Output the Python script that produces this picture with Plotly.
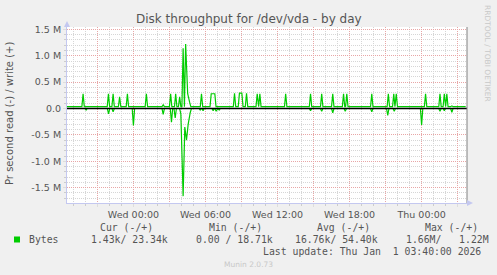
import plotly.graph_objects as go
from datetime import datetime, timedelta

# ---------------- data ----------------
T0 = datetime(2025, 12, 31, 0, 0)          # Wed 00:00
range_start_h = -5.53
range_end_h = 27.78
last_h = 27.67

write_base = 35000
write_spike_h = [-4.19, -2.08, -1.69, -1.15, -0.5, 1.08, 2.48, 3.10, 3.52, 3.85,
                 4.14, 4.35, 4.52, 4.68, 5.67, 6.48, 6.63, 6.78, 8.42, 8.83,
                 9.03, 9.42, 10.31, 10.53, 12.68, 14.75, 15.68, 16.60, 17.50, 17.77,
                 19.85, 21.23, 21.68, 21.89, 24.33, 25.53, 25.89, 26.10, 26.52]
write_spike_v = [280e3, 280e3, 280e3, 220e3, 280e3, 280e3, 70e3, 280e3, 280e3, 220e3,
                 1140e3, 1220e3, 280e3, 120e3, 280e3, 280e3, 280e3, 280e3, 290e3, 290e3,
                 290e3, 290e3, 280e3, 280e3, 280e3, 280e3, 280e3, 280e3, 280e3, 280e3,
                 280e3, 280e3, 280e3, 280e3, 280e3, 280e3, 280e3, 280e3, 50e3]

read_base = 0
read_spike_h = [-3.94, -2.07, -1.69, 0.0, 2.48, 3.17, 3.48, 3.95, 4.14, 4.28,
                4.42, 4.56, 4.73, 5.56, 5.80, 6.64, 6.89, 7.14, 14.75, 15.68,
                16.60, 17.64, 19.85, 21.18, 21.72, 24.0, 25.53, 25.89, 26.52]
read_spike_v = [30e3, 100e3, 60e3, 320e3, 110e3, 260e3, 180e3, 100e3, 1660e3, 350e3,
                600e3, 300e3, 80e3, 30e3, 40e3, 40e3, 50e3, 30e3, 40e3, 50e3,
                80e3, 50e3, 60e3, 130e3, 50e3, 310e3, 50e3, 40e3, 70e3]

y_tickvals = [-1.5e6, -1.0e6, -0.5e6, 0, 0.5e6, 1.0e6, 1.5e6]
y_ticktext = ["-1.5 M", "-1.0 M", "-0.5 M", "0.0", "0.5 M", "1.0 M", "1.5 M"]
x_tick_h = [-3, 0, 3, 6, 9, 12, 15, 18, 21, 24, 27]
x_ticktext = ["", "Wed 00:00", "", "Wed 06:00", "", "Wed 12:00", "", "Wed 18:00", "", "Thu 00:00", ""]

title = "Disk throughput for /dev/vda - by day"
ylabel = "Pr second read (-) / write (+)"
legend_name = "Bytes"
headers = ["Cur (-/+)", "Min (-/+)", "Avg (-/+)", "Max (-/+)"]
values = ["1.43k/ 23.34k", "0.00 / 18.71k", "16.76k/ 54.40k", "1.66M/   1.22M"]
last_update = "Last update: Thu Jan  1 03:40:00 2026"
GREEN = "#00cc00"


def ts(h):
    return T0 + timedelta(hours=h)


def build(sh, sv, base, w=0.1):
    xs, ys = [range_start_h], [base]
    prev = None
    for h, v in zip(sh, sv):
        if prev is None or h - prev > 2 * w:
            if prev is not None:
                xs.append(prev + w); ys.append(base)
            xs.append(h - w); ys.append(base)
        xs.append(h); ys.append(v)
        prev = h
    xs.append(prev + w); ys.append(base)
    xs.append(last_h); ys.append(base)
    return [ts(h) for h in xs], ys


wx, wy = build(write_spike_h, write_spike_v, write_base)
rx, ry = build(read_spike_h, read_spike_v, read_base)
ry = [-v for v in ry]

# plot area in pixels
L, R, T, B = 67, 467, 27, 203
W, H = 497, 275


def px(x):
    return (x - L) / (R - L)


def py(y):
    return (B - y) / (B - T)


fig = go.Figure()
fig.add_trace(go.Scatter(x=rx, y=ry, mode="lines", line=dict(color=GREEN, width=1.2),
                         hoverinfo="skip", showlegend=False))
fig.add_trace(go.Scatter(x=wx, y=wy, mode="lines", line=dict(color=GREEN, width=1.2),
                         hoverinfo="skip", showlegend=False))

MAJ = "#e8a6a6"
MIN = "#d6d6d6"
AX = "#c4c8f0"
TXT = "#555555"

fig.update_layout(
    width=W, height=H,
    margin=dict(l=L, r=W - R, t=T, b=H - B, pad=0),
    paper_bgcolor="#f0f0f0", plot_bgcolor="#ffffff",
    font=dict(family="DejaVu Sans", size=9.5, color=TXT),
    showlegend=False,
    xaxis=dict(
        type="date", range=[ts(range_start_h), ts(range_end_h)],
        tickmode="array", tickvals=[ts(h) for h in x_tick_h], ticktext=x_ticktext,
        showgrid=True, gridcolor=MAJ, griddash="1px,1px", gridwidth=1,
        minor=dict(tickmode="linear", tick0=T0, dtick=3600000, showgrid=True,
                   gridcolor=MIN, griddash="1px,1px", ticks="outside", ticklen=2, tickcolor="#cccccc"),
        ticks="outside", ticklen=3, tickcolor="#dddddd",
        showline=True, linecolor=AX, linewidth=1, zeroline=False,
        tickfont=dict(size=9.5, color=TXT), fixedrange=True,
    ),
    yaxis=dict(
        range=[-1.79e6, 1.544e6],
        tickmode="array", tickvals=y_tickvals, ticktext=y_ticktext,
        showgrid=True, gridcolor=MAJ, griddash="1px,1px", gridwidth=1,
        minor=dict(tickmode="linear", tick0=0, dtick=1e5, showgrid=True,
                   gridcolor=MIN, griddash="1px,1px", ticks="outside", ticklen=2, tickcolor="#cccccc"),
        ticks="outside", ticklen=3, tickcolor="#dddddd",
        showline=True, linecolor=AX, linewidth=1, zeroline=False,
        tickfont=dict(size=9.5, color=TXT), fixedrange=True,
    ),
)

shapes = [
    # zero line
    dict(type="line", xref="paper", yref="y", x0=0, x1=1, y0=0, y1=0,
         line=dict(color="#000000", width=1.6), layer="above"),
    # right frame
    dict(type="line", xref="paper", yref="paper", x0=1, x1=1, y0=0, y1=1,
         line=dict(color="#808080", width=1), layer="above"),
    # axis arrows
    dict(type="path", xref="paper", yref="paper",
         path=f"M {px(64)} {py(27)} L {px(70)} {py(27)} L {px(67)} {py(21)} Z",
         fillcolor=AX, line=dict(width=0)),
    dict(type="path", xref="paper", yref="paper",
         path=f"M {px(467)} {py(200)} L {px(467)} {py(206)} L {px(473)} {py(203)} Z",
         fillcolor=AX, line=dict(width=0)),
    # legend swatch
    dict(type="rect", xref="paper", yref="paper",
         x0=px(14), x1=px(20), y0=py(242.5), y1=py(236.5),
         fillcolor=GREEN, line=dict(width=0)),
]
fig.update_layout(shapes=shapes)

NB = "\u00a0"
mono = dict(family="DejaVu Sans Mono", size=9.8, color=TXT)


def ann(x, y, text, font, xanchor="left", yanchor="middle", angle=0):
    return dict(x=px(x), y=py(y), xref="paper", yref="paper", text=text.replace(" ", NB),
                showarrow=False, xanchor=xanchor, yanchor=yanchor, font=font,
                textangle=angle)


annotations = [
    ann(248.5, 19, title, dict(family="DejaVu Sans", size=12, color=TXT), xanchor="center"),
    ann(10, 114, ylabel, dict(family="DejaVu Sans", size=10, color=TXT), xanchor="center", angle=-90),
    ann(488, 53, "RRDTOOL / TOBI OETIKER", dict(family="DejaVu Sans", size=7.5, color="#c8c8c8"),
        xanchor="center", angle=90),
    ann(27, 239.5, legend_name, mono),
    ann(98.3, 227.7, headers[0], mono),
    ann(206.7, 227.7, headers[1], mono),
    ann(315, 227.7, headers[2], mono),
    ann(422.7, 227.7, headers[3], mono),
    ann(89.3, 239.5, values[0], mono),
    ann(194.3, 239.5, values[1], mono),
    ann(293.3, 239.5, values[2], mono),
    ann(404.3, 239.5, values[3], mono),
    ann(483, 251.3, last_update, mono, xanchor="right"),
    ann(248, 264.5, "Munin 2.0.73", dict(family="DejaVu Sans", size=7.5, color="#c8c8c8"),
        xanchor="center"),
]
fig.update_layout(annotations=annotations)

fig.write_html("out.html")
